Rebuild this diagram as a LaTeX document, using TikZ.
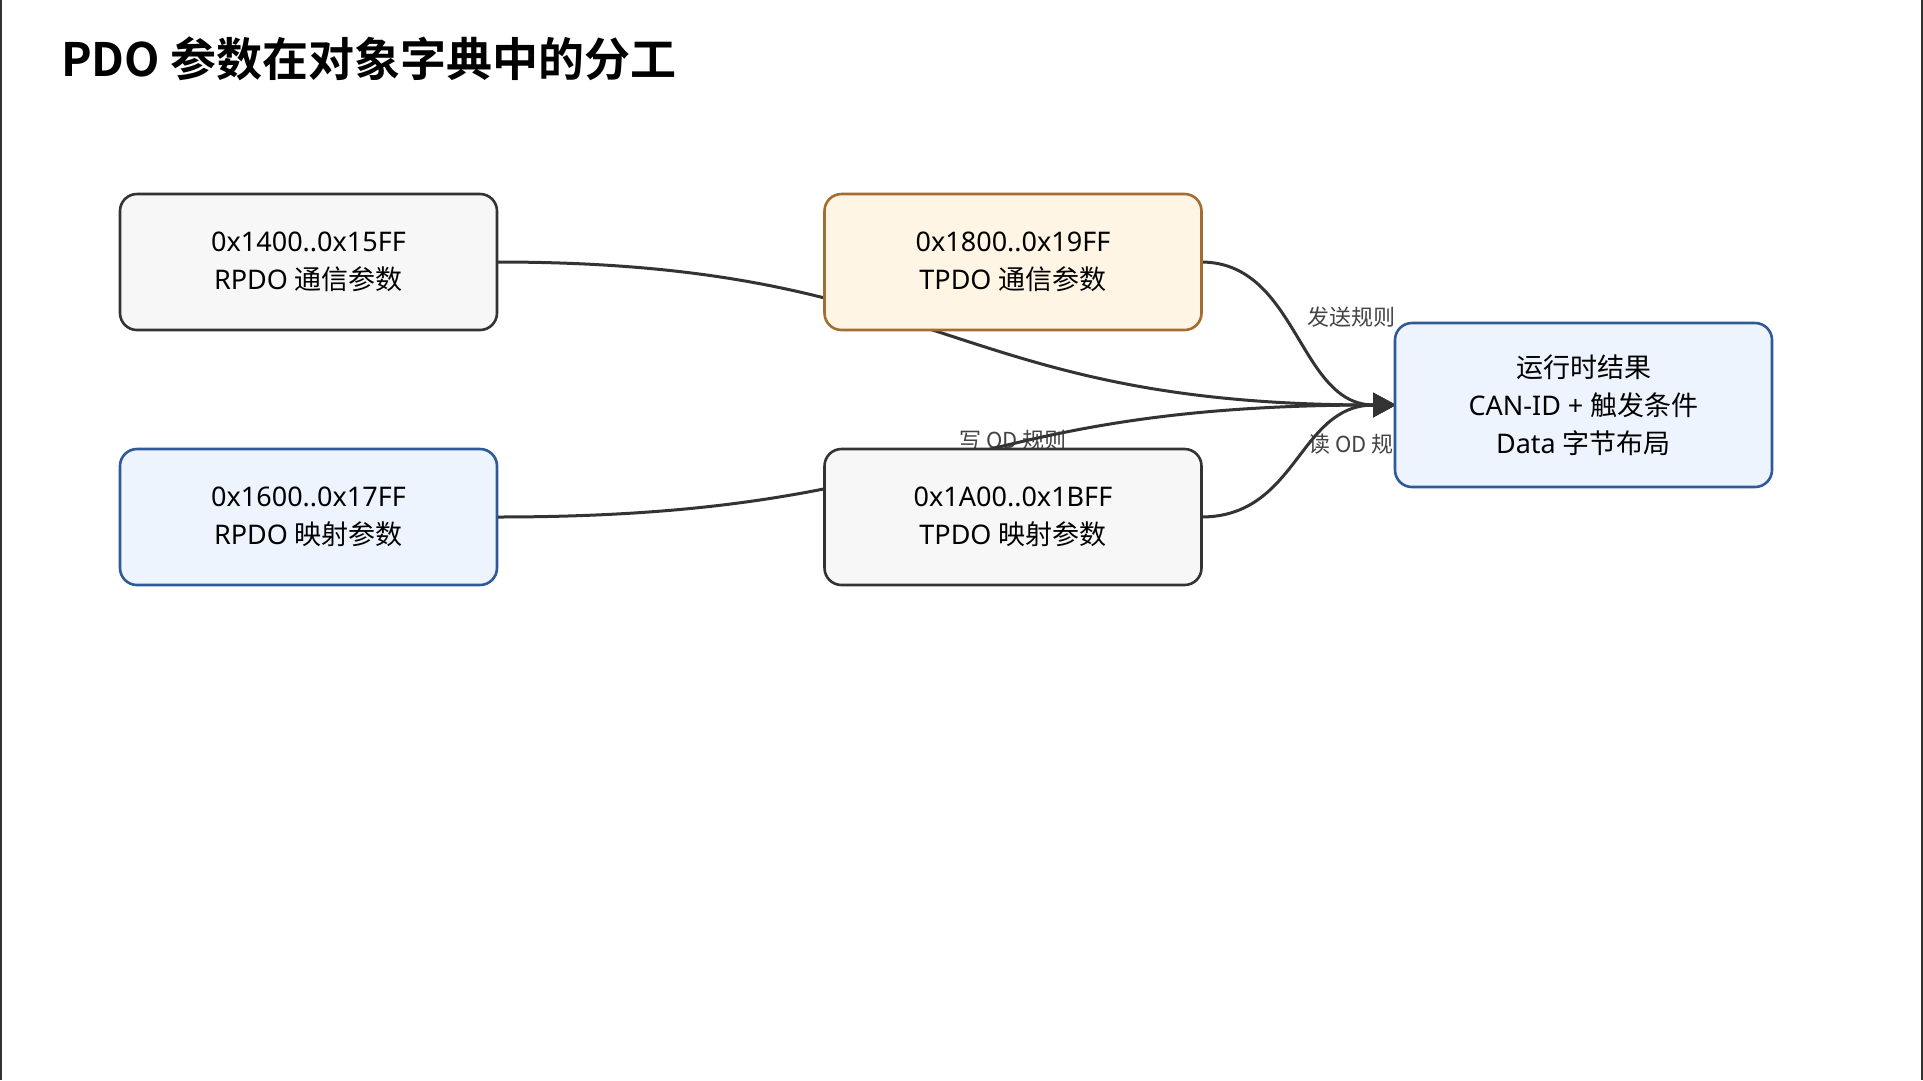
\documentclass[tikz,border=0pt]{standalone}
\usepackage{fontspec}
\setmainfont{Noto Sans}
\newfontfamily\cjk{Noto Sans CJK SC}
\newfontfamily\cjkbold{Noto Sans CJK SC Bold}
\usetikzlibrary{arrows.meta}
\definecolor{edgec}{HTML}{333333}
\definecolor{greyfill}{HTML}{F7F7F7}
\definecolor{greyline}{HTML}{333333}
\definecolor{orfill}{HTML}{FFF5E4}
\definecolor{orline}{HTML}{A36D2F}
\definecolor{blfill}{HTML}{EEF4FE}
\definecolor{blline}{HTML}{2E5A98}
\definecolor{labc}{HTML}{444444}
\tikzset{
  pbox/.style={rounded corners=17pt, line width=2.6pt, minimum width=377pt, minimum height=136pt,
    align=center, font=\fontsize{27}{38}\selectfont, text=black, inner sep=0pt},
  greybox/.style={pbox, draw=greyline, fill=greyfill},
  orbox/.style={pbox, draw=orline, fill=orfill},
  blbox/.style={pbox, draw=blline, fill=blfill},
  conn/.style={draw=edgec, line width=3pt, -{Triangle[length=23pt,width=24pt]}},
  elabel/.style={font=\cjk\fontsize{22}{24}\selectfont, text=labc, inner sep=0pt}
}
\begin{document}
\begin{tikzpicture}[x=1pt,y=-1pt]
\useasboundingbox (0,0) rectangle (1923,1080);
\fill[white] (0,0) rectangle (1923,1080);
\draw[line width=2pt, color=edgec] (1,0) -- (1,1080);
\draw[line width=2pt, color=edgec] (1922,0) -- (1922,1080);

\node[anchor=west, font=\cjkbold\fontsize{46}{50}\selectfont, inner sep=0pt] (title) at (61,59) {PDO 参数在对象字典中的分工};

% coordinates for the box sides
\coordinate (b1e) at (497,262);
\coordinate (b3e) at (497,517);
\coordinate (b2e) at (1201,262);
\coordinate (b4e) at (1201,517);
\coordinate (b5w) at (1396,405);

% labels (drawn under boxes)
\node[elabel] (l3) at (1351,317) {发送规则};
\node[elabel] (l2) at (1013,440) {写 OD 规则};
\node[elabel] (l4) at (1362,444) {读 OD 规则};

% connectors
\draw[conn] (b1e) .. controls (946,262) and (946,405) .. (b5w);
\draw[conn] (b3e) .. controls (946,517) and (946,405) .. (b5w);
\draw[conn] (b2e) .. controls (1298,262) and (1298,405) .. (b5w);
\draw[conn] (b4e) .. controls (1298,517) and (1298,405) .. (b5w);

% boxes
\node[greybox] (rcomm) at (308.5,262) {0x1400..0x15FF\\RPDO {\cjk 通信参数}};
\node[orbox] (tcomm) at (1013,262) {0x1800..0x19FF\\TPDO {\cjk 通信参数}};
\node[blbox] (rmap) at (308.5,517) {0x1600..0x17FF\\RPDO {\cjk 映射参数}};
\node[greybox] (tmap) at (1013,517) {0x1A00..0x1BFF\\TPDO {\cjk 映射参数}};
\node[blbox, minimum height=164pt] (res) at (1583.5,405) {{\cjk 运行时结果}\\CAN-ID + {\cjk 触发条件}\\Data {\cjk 字节布局}};
\end{tikzpicture}
\end{document}
